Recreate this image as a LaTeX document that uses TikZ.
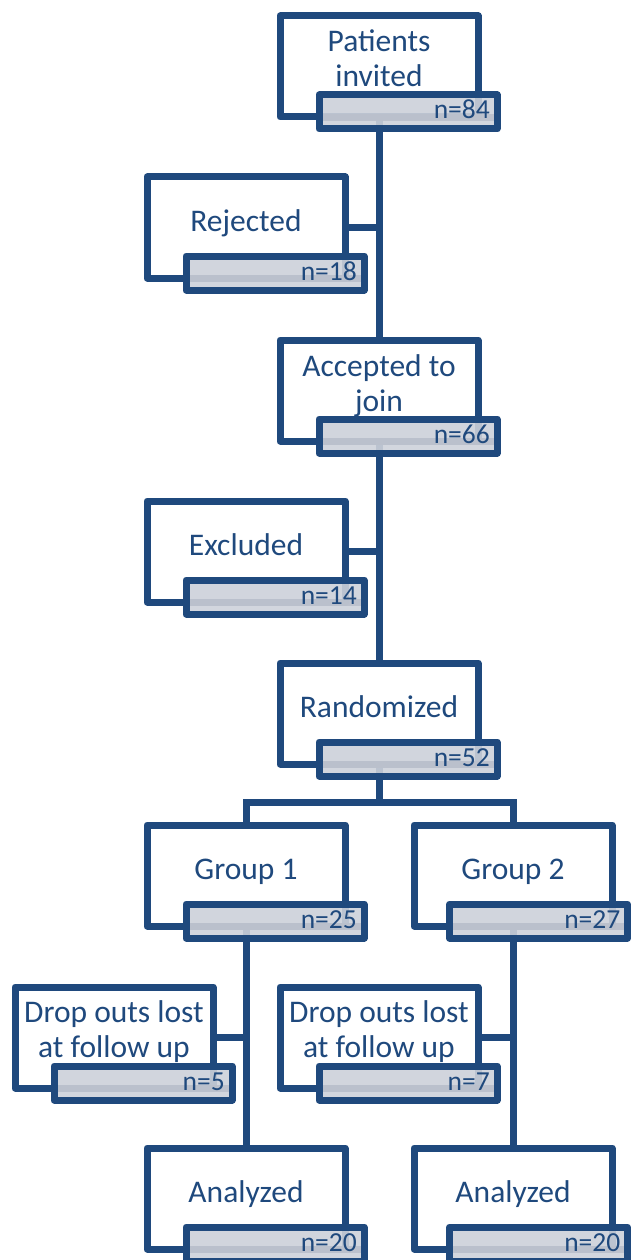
\documentclass[tikz,border=0pt]{standalone}
\usepackage{fontspec}
\setmainfont{Carlito}
\usetikzlibrary{calc}
\definecolor{navy}{RGB}{31,73,125}
\definecolor{barfill}{RGB}{205,209,218}
\definecolor{barstripe}{RGB}{186,192,204}
\pgfdeclarelayer{bg}
\pgfsetlayers{bg,main}
\tikzset{
  boxrect/.style={draw=navy, fill=white, line width=7pt, line join=round,
    minimum width=198pt, minimum height=101pt, inner sep=0pt, outer sep=0pt, anchor=north west},
  countbar/.style={draw=navy, fill=barfill, fill opacity=0.9, draw opacity=1, text opacity=1,
    line width=7pt, line join=round, minimum width=178pt, minimum height=34pt,
    inner sep=0pt, outer sep=0pt, anchor=north east,
    path picture={\fill[barstripe] ([yshift=8pt]path picture bounding box.south west)
       rectangle ([yshift=15pt]path picture bounding box.south east);}},
  boxtext/.style={text=navy, font=\fontsize{31.5}{35}\selectfont, inner sep=0pt, anchor=base},
  counttext/.style={text=navy, font=\fontsize{27.5}{30}\selectfont, inner sep=0pt, anchor=base east},
  conn/.style={draw=navy, line width=7pt},
}
\newcommand{\flowbox}[7][19]{%
  \node[boxrect] (#2) at (#3,#4) {};
  \node[countbar] (#2n) at ([xshift=#1pt,yshift=22pt]#2.south east) {};
  \node[boxtext] (#2t) at ([yshift=-#5pt]#2.north) {\begin{tabular}[t]{@{}c@{}}#6\end{tabular}};
  \node[counttext] (#2c) at ([xshift=-7pt,yshift=-24pt]#2n.north east) {#7};
}
\begin{document}
\begin{tikzpicture}[x=1pt,y=-1pt]
\useasboundingbox (0,0) rectangle (630,1260);
\flowbox{p}{280}{16}{36}{Patients\\invited}{n=84}
\flowbox{rj}{147}{177}{54}{Rejected}{n=18}
\flowbox{a}{280}{340}{36}{Accepted to\\join}{n=66}
\flowbox{ex}{147}{501}{54}{Excluded}{n=14}
\flowbox{rz}{280}{663}{54}{Randomized}{n=52}
\flowbox{g1}{147}{825}{54}{Group 1}{n=25}
\flowbox[15.5]{g2}{414}{825}{54}{Group 2}{n=27}
\flowbox{d1}{15}{987}{35}{Drop outs lost\\at follow up}{n=5}
\flowbox{d2}{280}{987}{35}{Drop outs lost\\at follow up}{n=7}
\flowbox{an1}{147}{1148}{54}{Analyzed}{n=20}
\flowbox[15.5]{an2}{414}{1148}{54}{Analyzed}{n=20}
\coordinate (split) at ([yshift=-38pt]rz.south);
\begin{pgfonlayer}{bg}
  \draw[conn] (p.center) -- (a.center);
  \draw[conn] (a.center) -- (rz.center);
  \draw[conn] (rj.east) -- (rj.east -| p.center);
  \draw[conn] (ex.east) -- (ex.east -| a.center);
  \draw[conn] (rz.center) -- (split);
  \draw[conn] (g1.center) |- (split) -| (g2.center);
  \draw[conn] (g1.center) -- (an1.center);
  \draw[conn] (g2.center) -- (an2.center);
  \draw[conn] (d1.east) -- (d1.east -| g1.center);
  \draw[conn] (d2.east) -- (d2.east -| g2.center);
\end{pgfonlayer}
\end{tikzpicture}
\end{document}
